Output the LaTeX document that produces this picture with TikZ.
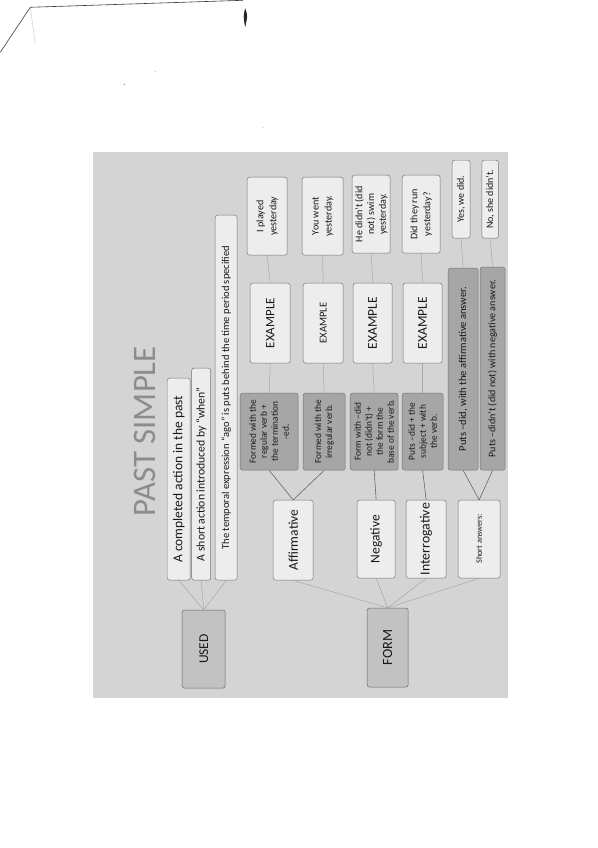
\documentclass[tikz,border=0pt]{standalone}
\usepackage{fontspec}
\setmainfont{Carlito}
\begin{document}
\begin{tikzpicture}[x=0.03cm, y=-0.03cm,
  box/.style={draw=black!55, fill=black!7, rounded corners=2pt, rotate=90, inner sep=1pt, align=center, text=black!90},
  darkbox/.style={box, fill=black!35},
  headbox/.style={box, fill=black!24, draw=black!60},
  link/.style={draw=black!60, line width=0.5pt},
  faint/.style={draw=black!35, line width=0.4pt}]
\fill [color=white] (0, 0) rectangle (597, 848);

% scan marks
\draw [black!80, line width=0.5pt] (0, 52) -- (30, 7) -- (243, 0);
\draw [black!25, line width=0.3pt] (30, 7) -- (35, 43);
\fill [black!85] (245, 8) .. controls (247.5, 15) .. (245, 27) .. controls (243, 16) .. (245, 8);
\fill [black!60] (124, 84) circle (0.6);
\fill [black!40] (263, 127) circle (0.5);
\fill [black!40] (155, 71) circle (0.5);

% scanned sheet
\fill [black!17] (93, 152) rectangle (508, 698);

\node (title) at (145, 431) [rotate=90, text=black!45, font=\fontsize{28pt}{30pt}\selectfont] {PAST SIMPLE};

% used
\node (used) at (203.5, 649) [headbox, minimum width=2.34cm, minimum height=1.29cm, font=\fontsize{11.5pt}{13pt}\selectfont] {USED};
\node (used1) at (178.5, 479) [box, minimum width=6.06cm, minimum height=0.69cm, font=\fontsize{11.5pt}{13pt}\selectfont] {A completed action in the past};
\node (used2) at (201, 474) [box, minimum width=6.36cm, minimum height=0.57cm, font=\fontsize{10pt}{12pt}\selectfont] {A short action introduced by ``when''};
\node (used3) at (226, 397.5) [box, minimum width=10.95cm, minimum height=0.66cm, font=\fontsize{9pt}{11pt}\selectfont] {The temporal expression ``ago'' is puts behind the time period specified};
\draw [faint] (used.east) -- (used1.west);
\draw [faint] (used.east) -- (used2.west);
\draw [faint] (used.east) -- (used3.west);

% form
\node (form) at (387.5, 647.5) [headbox, minimum width=2.37cm, minimum height=1.23cm, font=\fontsize{12pt}{14pt}\selectfont] {FORM};
\node (aff) at (293, 540) [box, minimum width=2.4cm, minimum height=1.2cm, font=\fontsize{11.5pt}{13pt}\selectfont] {Affirmative};
\node (neg) at (376, 539) [box, minimum width=2.34cm, minimum height=1.14cm, font=\fontsize{11.5pt}{13pt}\selectfont] {Negative};
\node (inter) at (426, 539) [box, minimum width=2.34cm, minimum height=1.2cm, font=\fontsize{11.8pt}{13pt}\selectfont] {Interrogative};
\node (short) at (479, 539) [box, minimum width=2.34cm, minimum height=1.26cm, font=\fontsize{7pt}{8pt}\selectfont] {Short answers:};
\draw [faint] (form.east) -- (aff.west);
\draw [faint] (form.east) -- (neg.west);
\draw [faint] (form.east) -- (inter.west);
\draw [faint] (form.east) -- (short.west);

\node (regular) at (269, 431.5) [darkbox, minimum width=2.31cm, minimum height=1.74cm, font=\fontsize{8pt}{9.4pt}\selectfont] {Formed with the\\regular verb +\\the termination\\-ed.};
\node (irregular) at (324, 431.5) [darkbox, minimum width=2.31cm, minimum height=1.26cm, font=\fontsize{8pt}{9.4pt}\selectfont] {Formed with the\\irregular verb.};
\node (negform) at (374, 431.5) [darkbox, minimum width=2.31cm, minimum height=1.44cm, font=\fontsize{8pt}{9.4pt}\selectfont] {Form with –did\\not (didn't) +\\the form the\\base of the verb.};
\node (interform) at (422.5, 431.5) [darkbox, minimum width=2.31cm, minimum height=1.23cm, font=\fontsize{8pt}{9.4pt}\selectfont] {Puts –did + the\\subject + with\\the verb.};
\node (putsyes) at (463, 369) [darkbox, minimum width=6.06cm, minimum height=0.9cm, font=\fontsize{9pt}{11pt}\selectfont] {Puts –did, with the affirmative answer.};
\node (putsno) at (492.5, 368.5) [darkbox, minimum width=6.09cm, minimum height=0.75cm, font=\fontsize{8.6pt}{10pt}\selectfont] {Puts –didn't (did not) with negative answer.};
\draw [link] (aff.east) -- (regular.west);
\draw [link] (aff.east) -- (irregular.west);
\draw [link] (neg.east) -- (negform.west);
\draw [link] (inter.east) -- (interform.west);
\draw [link] (short.east) -- (putsyes.west);
\draw [link] (short.east) -- (putsno.west);

% examples
\node (ex1) at (270, 323) [box, minimum width=2.4cm, minimum height=1.2cm, font=\fontsize{11pt}{13pt}\selectfont] {EXAMPLE};
\node (ex2) at (323, 323) [box, minimum width=2.4cm, minimum height=1.2cm, font=\fontsize{9pt}{11pt}\selectfont] {EXAMPLE};
\node (ex3) at (372.5, 323) [box, minimum width=2.4cm, minimum height=1.17cm, font=\fontsize{11.5pt}{13pt}\selectfont] {EXAMPLE};
\node (ex4) at (422.5, 323) [box, minimum width=2.4cm, minimum height=1.17cm, font=\fontsize{11.5pt}{13pt}\selectfont] {EXAMPLE};
\draw [faint] (regular.east) -- (ex1.west);
\draw [faint] (irregular.east) -- (ex2.west);
\draw [faint] (negform.east) -- (ex3.west);
\draw [faint] (interform.east) -- (ex4.west);

\node (s1) at (267, 216) [box, minimum width=2.34cm, minimum height=1.2cm, font=\fontsize{8.6pt}{11pt}\selectfont] {I played\\yesterday};
\node (s2) at (322.5, 216) [box, minimum width=2.34cm, minimum height=1.23cm, font=\fontsize{8.6pt}{11pt}\selectfont] {You went\\yesterday.};
\node (s3) at (371, 214) [box, minimum width=2.34cm, minimum height=1.14cm, font=\fontsize{8.6pt}{10pt}\selectfont] {He didn't (did\\not) swim\\yesterday.};
\node (s4) at (421, 214) [box, minimum width=2.34cm, minimum height=1.14cm, font=\fontsize{8.6pt}{11pt}\selectfont] {Did they run\\yesterday?};
\node (yes) at (461, 199) [box, minimum width=2.34cm, minimum height=0.54cm, font=\fontsize{8.5pt}{10pt}\selectfont] {Yes, we did.};
\node (no) at (490, 199) [box, minimum width=2.34cm, minimum height=0.5cm, font=\fontsize{8.5pt}{10pt}\selectfont] {No, she didn't.};
\draw [faint] (ex1.east) -- (s1.west);
\draw [faint] (ex2.east) -- (s2.west);
\draw [faint] (ex3.east) -- (s3.west);
\draw [faint] (ex4.east) -- (s4.west);
\draw [faint] (putsyes.east) -- (yes.west);
\draw [faint] (putsno.east) -- (no.west);
\end{tikzpicture}
\end{document}
